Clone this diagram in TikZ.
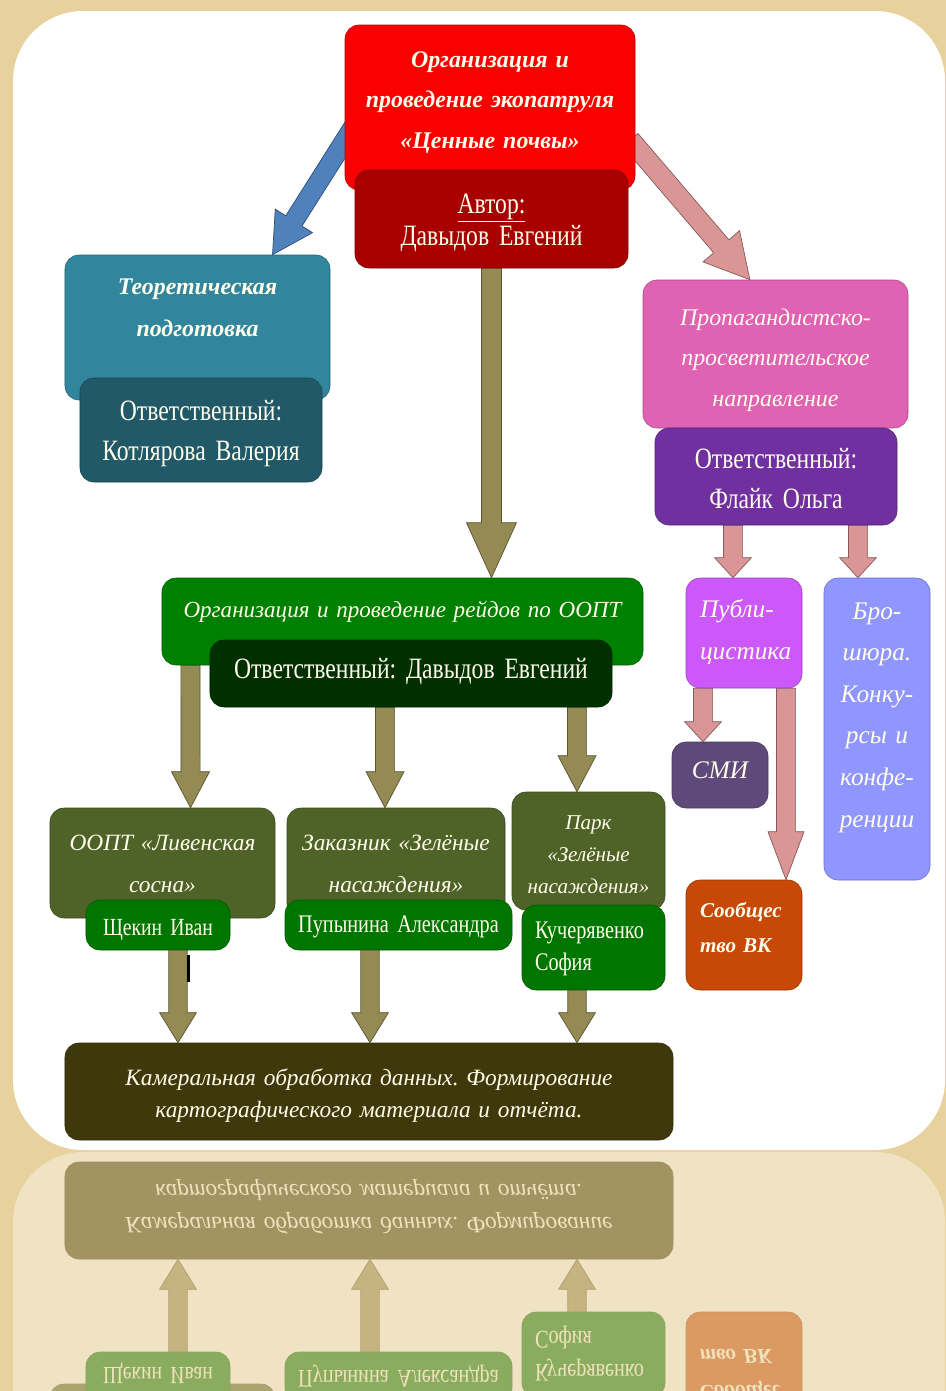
\documentclass[tikz,border=0pt]{standalone}
\usepackage{fontspec}
\setmainfont{Liberation Serif}
\newfontfamily\hep[FakeStretch=0.8,WordSpace=0.8]{Liberation Serif}
\frenchspacing
\usetikzlibrary{calc}
\definecolor{giay}{RGB}{231,209,157}
\definecolor{chu}{RGB}{255,253,235}
\definecolor{cdo}{RGB}{250,0,0}
\definecolor{cdosam}{RGB}{168,0,0}
\definecolor{cteal}{RGB}{49,133,156}
\definecolor{ctealsam}{RGB}{33,89,104}
\definecolor{chong}{RGB}{224,98,178}
\definecolor{ctim}{RGB}{112,48,160}
\definecolor{cxanh}{RGB}{0,128,0}
\definecolor{cxanhsam}{RGB}{0,48,0}
\definecolor{coliu}{RGB}{79,98,40}
\definecolor{cten}{RGB}{0,118,0}
\definecolor{cnau}{RGB}{62,56,10}
\definecolor{cpubl}{RGB}{204,88,250}
\definecolor{cbro}{RGB}{143,150,255}
\definecolor{csmi}{RGB}{95,73,122}
\definecolor{cvk}{RGB}{200,72,8}
\definecolor{mvang}{RGB}{148,138,84}
\definecolor{mhong}{RGB}{217,150,148}
\definecolor{mxanh}{RGB}{79,129,189}
\pgfdeclarelayer{nen}\pgfdeclarelayer{mui}
\pgfsetlayers{nen,mui,main}
% mui ten khoi: kieu, nua than, nua dau, dai dau, tu, den
\newcommand\muiten[6]{%
 \path #5 coordinate (mt-a) #6 coordinate (mt-b);
 \path ($(mt-b)!#4!(mt-a)$) coordinate (mt-c);
 \filldraw[#1] ($(mt-a)!#2!90:(mt-b)$)--($(mt-c)!#2!90:(mt-b)$)
 --($(mt-c)!#3!90:(mt-b)$)--(mt-b)--($(mt-c)!#3!-90:(mt-b)$)
 --($(mt-c)!#2!-90:(mt-b)$)--($(mt-a)!#2!-90:(mt-b)$)--cycle;}
% phan duoi (ve hai lan: that va bong)
\newcommand\phanduoi{%
 \node[hop=coliu,text width=56.25mm,text height=10.5mm,text depth=17mm,
 font=\itshape\fontsize{16.6}{30}\selectfont] (oopt) at (162.5,850) {ООПТ «Ливенская\\сосна»};
 \node[hop=coliu,text width=54.5mm,text height=10.5mm,text depth=17mm,
 font=\itshape\fontsize{16.6}{30}\selectfont] (zakaz) at (396,850) {Заказник «Зелёные\\насаждения»};
 \node[hop=coliu,text width=38.25mm,text height=9.25mm,text depth=20.25mm,
 font=\itshape\fontsize{15}{23}\selectfont] (park) at (588.5,829) {Парк\\«Зелёные\\насаждения»};
 \node[hop=cten,text width=36mm,text height=8.75mm,text depth=3.75mm,
 font=\hep\fontsize{17.5}{23}\selectfont] (ooptname) at (158,935) {Щекин Иван};
 \node[hop=cten,text width=56.75mm,text height=8mm,text depth=4.5mm,
 font=\hep\fontsize{18}{23}\selectfont] (zakazname) at (398.5,932) {Пупынина Александра};
 \node[hop=cten,align=left,inner xsep=3.25mm,text width=29.25mm,text height=8.25mm,text depth=13mm,
 font=\hep\fontsize{18}{23}\selectfont] (parkname) at (593.5,938) {Кучерявенко\\София};
 \node[hop=cvk,align=left,inner xsep=3.5mm,text width=22mm,text height=9.25mm,text depth=18.25mm,
 font=\bfseries\itshape\fontsize{15}{25}\selectfont] (vk) at (744,917) {Сообщес\\тво ВК};
 \node[hop=cnau,text width=152mm,text height=10.5mm,text depth=13.75mm,
 font=\itshape\fontsize{16.6}{23}\selectfont] (kamer) at (369,1085)
 {Камеральная обработка данных. Формирование\\картографического материала и отчёта.};
 \muiten{muivang}{2.3mm}{4.6mm}{7.5mm}{([xshift=5mm]ooptname.south)}{([xshift=-47.75mm]kamer.north)}
 \muiten{muivang}{2.3mm}{4.6mm}{7.5mm}{([xshift=-7.125mm]zakazname.south)}{([xshift=.25mm]kamer.north)}
 \muiten{muivang}{2.3mm}{4.6mm}{7.5mm}{([xshift=-4.125mm]parkname.south)}{([xshift=52mm]kamer.north)}}
\begin{document}
\begin{tikzpicture}[x=.25mm,y=-.25mm,
 hop/.style={fill=#1,draw=#1!75!black,line width=.4pt,rounded corners=3.5mm,
 inner sep=0pt,align=center,text=chu,anchor=base},
 muivang/.style={fill=mvang,draw=mvang!60!black,line width=.5pt},
 muihong/.style={fill=mhong,draw=mhong!60!black,line width=.5pt},
 muixanh/.style={fill=mxanh,draw=mxanh!60!black,line width=.5pt}]
 \useasboundingbox (0,0) rectangle (946,1391);
 \begin{pgfonlayer}{nen}
 \fill[giay] (0,0) rectangle (946,1391);
 \fill[white,rounded corners=17.5mm] (13,11) rectangle (945,1150);
 \end{pgfonlayer}
 % <<< bong phan chieu
 \begin{scope}
 \clip (0,1152) rectangle (946,1391);
 \begin{scope}[shift={(0,2302)},yscale=-1,transform shape]
 \fill[white,rounded corners=17.5mm] (13,11) rectangle (945,1150);
 \phanduoi
 \end{scope}
 \fill[giay,opacity=.6] (0,1152) rectangle (946,1391);
 \end{scope}
 % <<< tang 1
 \node[hop=cdo,text width=72.5mm,text height=10.5mm,text depth=30.75mm,
 font=\bfseries\itshape\fontsize{17}{29}\selectfont] (ecopat) at (490,67)
 {Организация и\\проведение экопатруля\\«Ценные почвы»};
 \node[hop=cdosam,text width=68.25mm,text height=10.75mm,text depth=13.75mm,
 font=\hep\fontsize{21}{23}\selectfont] (author) at (491.5,213) {\underline{Автор:}\\Давыдов Евгений};
 % <<< tang 2
 \node[hop=cteal,text width=66.25mm,text height=9.75mm,text depth=26.5mm,
 font=\bfseries\itshape\fontsize{17}{30.5}\selectfont] (theory) at (197.5,294) {Теоретическая\\подготовка};
 \node[hop=ctealsam,text width=60.5mm,text height=10.5mm,text depth=15.5mm,
 font=\hep\fontsize{21}{29}\selectfont] (theoryresp) at (201,420) {Ответственный:\\Котлярова Валерия};
 \node[hop=chong,text width=66.25mm,text height=11.25mm,text depth=25.75mm,
 font=\itshape\fontsize{17}{29}\selectfont] (prop) at (775.5,325)
 {Пропагандистско-\\просветительское\\направление};
 \node[hop=ctim,text width=60.5mm,text height=10mm,text depth=14.25mm,
 font=\hep\fontsize{21}{28.5}\selectfont] (propresp) at (776,468) {Ответственный:\\Флайк Ольга};
 % <<< tang 3
 \node[hop=cxanh,text width=120.25mm,text height=9.75mm,text depth=12mm,
 font=\itshape\fontsize{16.4}{24}\selectfont] (raid) at (402.5,617) {Организация и проведение рейдов по ООПТ};
 \node[hop=cxanhsam,text width=100.5mm,text height=9.5mm,text depth=7.25mm,
 font=\hep\fontsize{21}{24}\selectfont] (raidresp) at (411,678) {Ответственный: Давыдов Евгений};
 \node[hop=cpubl,align=left,inner xsep=3.5mm,text width=22mm,text height=9.75mm,text depth=17.75mm,
 font=\itshape\fontsize{18}{30}\selectfont] (publ) at (744,617) {Публи-\\цистика};
 \node[hop=cbro,text width=26.5mm,text height=10.25mm,text depth=65.25mm,
 font=\itshape\fontsize{18}{29.6}\selectfont] (broch) at (877,619)
 {Бро-\\шюра.\\Конку-\\рсы и\\конфе-\\ренции};
 \node[hop=csmi,text width=24mm,text height=9mm,text depth=7.5mm,
 font=\itshape\fontsize{18}{24}\selectfont] (smi) at (720,778) {СМИ};
 \phanduoi
 \draw[line width=.75mm] (188,955)--(188,982);
 \begin{pgfonlayer}{mui}
 \muiten{muixanh}{2.4mm}{5.5mm}{10mm}{([xshift=2.75mm,yshift=-3.9mm]ecopat.west)}{([xshift=18.75mm]theory.north)}
 \muiten{muihong}{2.5mm}{6mm}{11mm}{([xshift=-1.25mm,yshift=-8.1mm]ecopat.east)}{([xshift=-6.4mm]prop.north)}
 \muiten{muivang}{2.5mm}{6.25mm}{13.75mm}{(author.south)}{(author.south |- raid.north)}
 \muiten{muivang}{2.4mm}{4.75mm}{9mm}{([xshift=-53mm]raid.south)}{([xshift=7mm]oopt.north)}
 \muiten{muivang}{2.4mm}{4.75mm}{9mm}{([xshift=-6.5mm]raidresp.south)}{([xshift=-2.75mm]zakaz.north)}
 \muiten{muivang}{2.4mm}{4.75mm}{9mm}{([xshift=41.5mm]raidresp.south)}{([xshift=-2.875mm]park.north)}
 \muiten{muihong}{2.4mm}{4.6mm}{5mm}{([xshift=-10.75mm]propresp.south)}{([xshift=-2.75mm]publ.north)}
 \muiten{muihong}{2.4mm}{4.6mm}{5mm}{([xshift=20.5mm]propresp.south)}{([xshift=-4.75mm]broch.north)}
 \muiten{muihong}{2.4mm}{4.6mm}{5mm}{([xshift=-10.25mm]publ.south)}{([xshift=-4.25mm]smi.north)}
 \muiten{muihong}{2.4mm}{4.5mm}{12mm}{([xshift=10.5mm]publ.south)}{([xshift=10.5mm]vk.north)}
 \end{pgfonlayer}
\end{tikzpicture}
\end{document}
